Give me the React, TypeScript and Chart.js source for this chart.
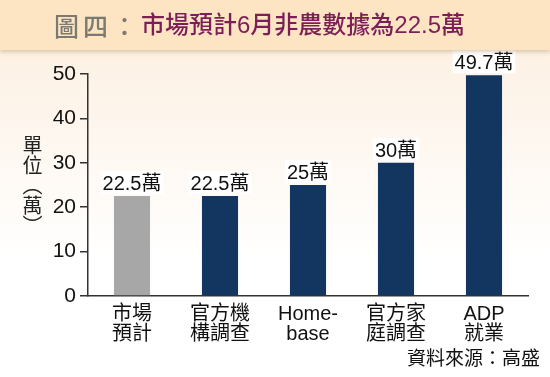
import React, { useEffect, useRef } from "react";
import { Chart, registerables } from "chart.js";

Chart.register(...registerables);

const categories: string[][] = [
  ["市場", "預計"],
  ["官方機", "構調查"],
  ["Home-", "base"],
  ["官方家", "庭調查"],
  ["ADP", "就業"],
];
const values: number[] = [22.5, 22.5, 25, 30, 49.7];
const valueLabels: string[] = ["22.5萬", "22.5萬", "25萬", "30萬", "49.7萬"];
const barColors: string[] = ["#a7a7a7", "#12365f", "#12365f", "#12365f", "#12365f"];
const yTicks: number[] = [0, 10, 20, 30, 40, 50];
const titleGrey = "圖四：";
const titleMain = "市場預計6月非農數據為22.5萬";
const yTitle = "單位（萬）";
const sourceText = "資料來源：高盛";

const FONT = "'Liberation Sans', Arial, 'Noto Sans CJK TC', sans-serif";

const labelPlugin = {
  id: "valueLabels",
  afterDatasetsDraw(chart: any) {
    const ctx = chart.ctx;
    const meta = chart.getDatasetMeta(0);
    ctx.save();
    ctx.font = `20px ${FONT}`;
    ctx.textAlign = "center";
    ctx.textBaseline = "alphabetic";
    meta.data.forEach((bar: any, i: number) => {
      const text = valueLabels[i];
      const w = ctx.measureText(text).width;
      const baseY = bar.y - 6;
      ctx.fillStyle = "#ffffff";
      ctx.fillRect(bar.x - w / 2 - 2, baseY - 19, w + 4, 23);
      ctx.fillStyle = "#111111";
      ctx.fillText(text, bar.x, baseY);
    });
    ctx.restore();
  },
};

export default function App() {
  const ref = useRef<HTMLCanvasElement | null>(null);
  useEffect(() => {
    document.body.style.margin = "0";
    if (!ref.current) return;
    const chart = new Chart(ref.current, {
      type: "bar",
      data: {
        labels: categories,
        datasets: [
          {
            data: values,
            backgroundColor: barColors,
            barPercentage: 0.41,
            categoryPercentage: 1,
          },
        ],
      },
      options: {
        responsive: false,
        animation: false,
        devicePixelRatio: 1,
        layout: { padding: { left: 40, right: 22, top: 74, bottom: 0 } },
        plugins: { legend: { display: false }, tooltip: { enabled: false }, title: { display: false } },
        scales: {
          x: {
            grid: { display: false },
            border: { display: true, color: "#333", width: 1.5 },
            ticks: {
              color: "#111",
              font: { size: 20, family: FONT, lineHeight: 1.0 },
              padding: 0,
              maxRotation: 0,
              autoSkip: false,
            },
            afterFit: (s: any) => {
              s.height = 81;
            },
          },
          y: {
            min: 0,
            max: 50,
            afterBuildTicks: (s: any) => {
              s.ticks = yTicks.map((v) => ({ value: v }));
            },
            grid: { display: true, drawOnChartArea: false, drawTicks: true, tickLength: 8, color: "#333", lineWidth: 1.5 },
            border: { display: true, color: "#333", width: 1.5 },
            ticks: { color: "#111", font: { size: 21, family: FONT }, padding: 4 },
            afterFit: (s: any) => {
              s.width = 48;
            },
          },
        },
      },
      plugins: [labelPlugin],
    });
    return () => chart.destroy();
  }, []);

  return (
    <div
      style={{
        position: "fixed",
        left: 0,
        top: 0,
        width: 550,
        height: 377,
        overflow: "hidden",
        background: "linear-gradient(to bottom, #fcecd8 0px, #fdf3e8 80px, #ffffff 260px)",
      }}
    >
      <canvas ref={ref} width={550} height={377} style={{ position: "absolute", left: 0, top: 0 }} />
      <div
        style={{
          position: "absolute",
          left: 0,
          top: 0,
          width: 550,
          height: 50,
          background: "#fde5c3",
          boxShadow: "0 2px 4px rgba(150,120,80,0.35)",
          display: "flex",
          alignItems: "center",
          justifyContent: "flex-start",
          paddingLeft: 54,
          boxSizing: "border-box",
          lineHeight: "50px",
          whiteSpace: "nowrap",
        }}
      >
        <span
          style={{
            color: "#7a7a72",
            fontFamily: "'Noto Sans CJK TC', sans-serif",
            fontSize: 25,
            fontWeight: 500,
            letterSpacing: 4,
          }}
        >
          {titleGrey}
        </span>
        <span
          style={{
            color: "#7b1f56",
            fontFamily: "'Liberation Sans', 'Noto Sans CJK TC', sans-serif",
            fontSize: 24,
            fontWeight: 500,
          }}
        >
          {titleMain}
        </span>
      </div>
      <div
        style={{
          position: "absolute",
          left: 20,
          top: 135,
          writingMode: "vertical-rl",
          textOrientation: "upright",
          fontFamily: "'Noto Sans CJK TC', sans-serif",
          fontSize: 20,
          lineHeight: "24px",
          color: "#222",
        }}
      >
        {yTitle}
      </div>
      <div
        style={{
          position: "absolute",
          right: 10,
          top: 347,
          fontFamily: "'Liberation Sans', 'Noto Sans CJK TC', sans-serif",
          fontSize: 19,
          lineHeight: "24px",
          color: "#111",
        }}
      >
        {sourceText}
      </div>
    </div>
  );
}
